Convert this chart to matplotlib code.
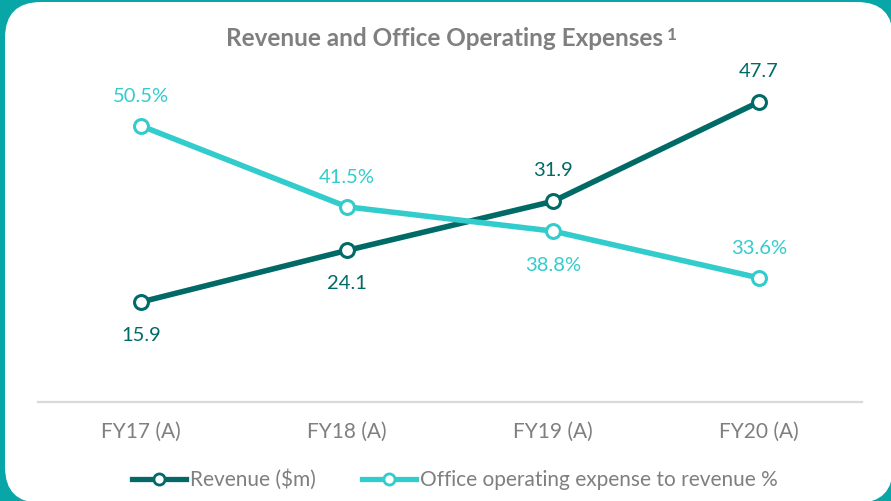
import matplotlib
matplotlib.use('Agg')
import matplotlib.pyplot as plt
from matplotlib.patches import FancyBboxPatch
from matplotlib.transforms import IdentityTransform

years = ['FY17 (A)', 'FY18 (A)', 'FY19 (A)', 'FY20 (A)']
revenue = [15.9, 24.1, 31.9, 47.7]
opex_pct = [50.5, 41.5, 38.8, 33.6]
revenue_labels = ['15.9', '24.1', '31.9', '47.7']
opex_labels = ['50.5%', '41.5%', '38.8%', '33.6%']

DARK = '#006b66'
LIGHT = '#33cccc'
GREY = '#7f7f7f'


def main():
	plt.rcParams['font.family'] = ['Lato', 'DejaVu Sans']
	fig = plt.figure(figsize=(8.91, 5.01), dpi=100)
	fig.patch.set_facecolor('#08a6a6')

	# white rounded panel over the teal frame
	panel = FancyBboxPatch((5, -2), 888, 501, boxstyle='round,pad=0,rounding_size=36',
		transform=IdentityTransform(), facecolor='white', edgecolor='none', zorder=-5)
	fig.patches.append(panel)

	ax = fig.add_axes([38 / 891, 99 / 501, 824 / 891, 340 / 501])
	ax.set_facecolor('none')
	ax2 = ax.twinx()
	ax2.set_facecolor('none')

	x = list(range(len(years)))
	ax.plot(x, revenue, color=DARK, lw=4, marker='o', ms=10, mfc='white', mec=DARK, mew=2.2, zorder=3)
	ax2.plot(x, opex_pct, color=LIGHT, lw=4, marker='o', ms=10, mfc='white', mec=LIGHT, mew=2.2, zorder=3)

	ax.set_xlim(-0.5, 3.5)
	ax.set_ylim(0, 54.05)
	ax2.set_ylim(19.8, 57.6)

	# label offsets in points (up positive)
	rev_off = [-24, -24, 22, 22]
	pct_off = [21, 21, -25, 21]
	for i in x:
		ax.annotate(revenue_labels[i], (i, revenue[i]), xytext=(0, rev_off[i]), textcoords='offset points',
			ha='center', va='center', fontsize=14.5, color=DARK)
		ax2.annotate(opex_labels[i], (i, opex_pct[i]), xytext=(0, pct_off[i]), textcoords='offset points',
			ha='center', va='center', fontsize=14.5, color=LIGHT)

	for a in (ax, ax2):
		for s in a.spines.values():
			s.set_visible(False)
		a.set_yticks([])
	ax.spines['bottom'].set_visible(True)
	ax.spines['bottom'].set_color('#d9d9d9')
	ax.spines['bottom'].set_linewidth(1.6)
	ax.set_xticks(x)
	ax.set_xticklabels(years, fontsize=15, color=GREY)
	ax.tick_params(axis='x', length=0, pad=14)

	title = fig.text(444 / 891, 1 - 38 / 501, 'Revenue and Office Operating Expenses', ha='center', va='center',
		fontsize=17.5, fontweight='bold', color=GREY)
	ax.annotate('1', xy=(1, 1), xycoords=title, xytext=(3, 0), textcoords='offset points',
		ha='left', va='top', fontsize=12.5, fontweight='bold', color=GREY, annotation_clip=False)

	h1, = ax.plot([], [], color=DARK, lw=3.8, marker='o', ms=8, mfc='white', mec=DARK, mew=2)
	h2, = ax.plot([], [], color=LIGHT, lw=3.8, marker='o', ms=8, mfc='white', mec=LIGHT, mew=2)
	fig.legend([h1, h2], ['Revenue ($m)', 'Office operating expense to revenue %'], loc='center',
		bbox_to_anchor=(455 / 891, 1 - 480 / 501), ncol=2, frameon=False, fontsize=15,
		labelcolor=GREY, handlelength=2.6, handletextpad=0.2, columnspacing=2.2)

	fig.savefig('out.png', dpi=100, facecolor=fig.get_facecolor())


if __name__ == '__main__':
	main()
